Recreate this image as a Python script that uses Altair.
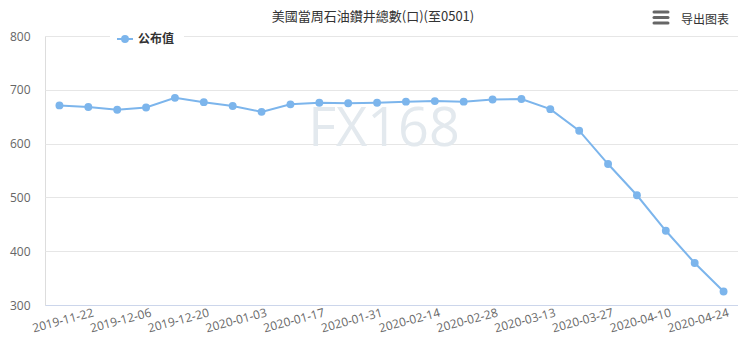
import altair as alt
import pandas as pd

# ---- data ----
dates = ["2019-11-22", "2019-11-29", "2019-12-06", "2019-12-13", "2019-12-20", "2019-12-27",
         "2020-01-03", "2020-01-10", "2020-01-17", "2020-01-24", "2020-01-31", "2020-02-07",
         "2020-02-14", "2020-02-21", "2020-02-28", "2020-03-06", "2020-03-13", "2020-03-20",
         "2020-03-27", "2020-04-03", "2020-04-10", "2020-04-17", "2020-04-24", "2020-05-01"]
values = [671, 668, 663, 667, 685, 677, 670, 659, 673, 676, 675, 676,
          678, 679, 678, 682, 683, 664, 624, 562, 504, 438, 378, 325]
x_tick_labels = ["2019-11-22", "2019-12-06", "2019-12-20", "2020-01-03", "2020-01-17", "2020-01-31",
                 "2020-02-14", "2020-02-28", "2020-03-13", "2020-03-27", "2020-04-10", "2020-04-24"]
y_ticks = [300, 400, 500, 600, 700, 800]
title_text = "美國當周石油鑽井總數(口)(至0501)"
series_name = "公布值"
export_text = "导出图表"
watermark = "FX168"

df = pd.DataFrame({"date": dates, "value": values})

W, H = 693, 269
LINE = "#7cb5ec"
FONT = "Open Sans"

x_enc = alt.X("date:O", sort=None,
              scale=alt.Scale(type="point", padding=0.5),
              axis=alt.Axis(title=None, values=x_tick_labels, labelAngle=-15, labelAlign="right",
                            labelBaseline="top", labelOffset=32, labelPadding=2, ticks=False,
                            domainColor="#ccd6eb", domainWidth=1, labelColor="#666666",
                            labelFontSize=12, labelFont=FONT, labelOverlap=False, grid=False,
                            labelFlush=False))
y_enc = alt.Y("value:Q",
              scale=alt.Scale(domain=[300, 800], nice=False, zero=False),
              axis=alt.Axis(title=None, values=y_ticks, ticks=False, domain=False,
                            gridColor="#e6e6e6", gridWidth=1, labelColor="#666666",
                            labelFontSize=12, labelFont=FONT, labelPadding=15))

base = alt.Chart(df)

wm = base.mark_text(text=watermark, fontSize=54, font=FONT, color="#e3e9ee",
                    align="center", baseline="alphabetic").encode(
    x=alt.value(339), y=alt.value(110)).transform_filter("datum.date == '2019-11-22'")

line = base.mark_line(color=LINE, strokeWidth=2).encode(x=x_enc, y=y_enc)
pts = base.mark_point(filled=True, color=LINE, size=62, opacity=1).encode(x=x_enc, y=y_enc)

one = alt.Chart(pd.DataFrame({"k": [0]}))

legend_bg = one.mark_rect(color="white").encode(
    x=alt.value(65), x2=alt.value(139), y=alt.value(-7), y2=alt.value(12))
legend_line = one.mark_rule(color=LINE, strokeWidth=2).encode(
    x=alt.value(72), x2=alt.value(88), y=alt.value(3))
legend_pt = one.mark_point(filled=True, color=LINE, size=62, opacity=1).encode(
    x=alt.value(80), y=alt.value(3))
legend_txt = one.mark_text(text=series_name, fontSize=12, fontWeight="bold",
                           font="Noto Sans CJK SC", color="#333333",
                           align="left", baseline="middle").encode(
    x=alt.value(93), y=alt.value(3))

title = one.mark_text(text=title_text, fontSize=13, font="Noto Sans CJK TC", color="#333333",
                      align="center", baseline="middle").encode(
    x=alt.value(328), y=alt.value(-19))
export = one.mark_text(text=export_text, fontSize=12, font="Noto Sans CJK SC", color="#333333",
                       align="left", baseline="middle").encode(
    x=alt.value(636), y=alt.value(-16))
menu_layers = [one.mark_rule(color="#666666", strokeWidth=3, strokeCap="round").encode(
    x=alt.value(609), x2=alt.value(623), y=alt.value(yy)) for yy in (-24, -18.5, -13)]

chart = alt.layer(wm, line, pts, legend_bg, legend_line, legend_pt, legend_txt,
                  title, export, *menu_layers).properties(
    width=W, height=H,
    padding={"left": 37, "top": 28, "right": 0, "bottom": 40},
    autosize=alt.AutoSizeParams(type="none"),
).configure_view(stroke=None).configure(background="white")

chart.save("out.html", embed_options={"renderer": "svg", "actions": False})
